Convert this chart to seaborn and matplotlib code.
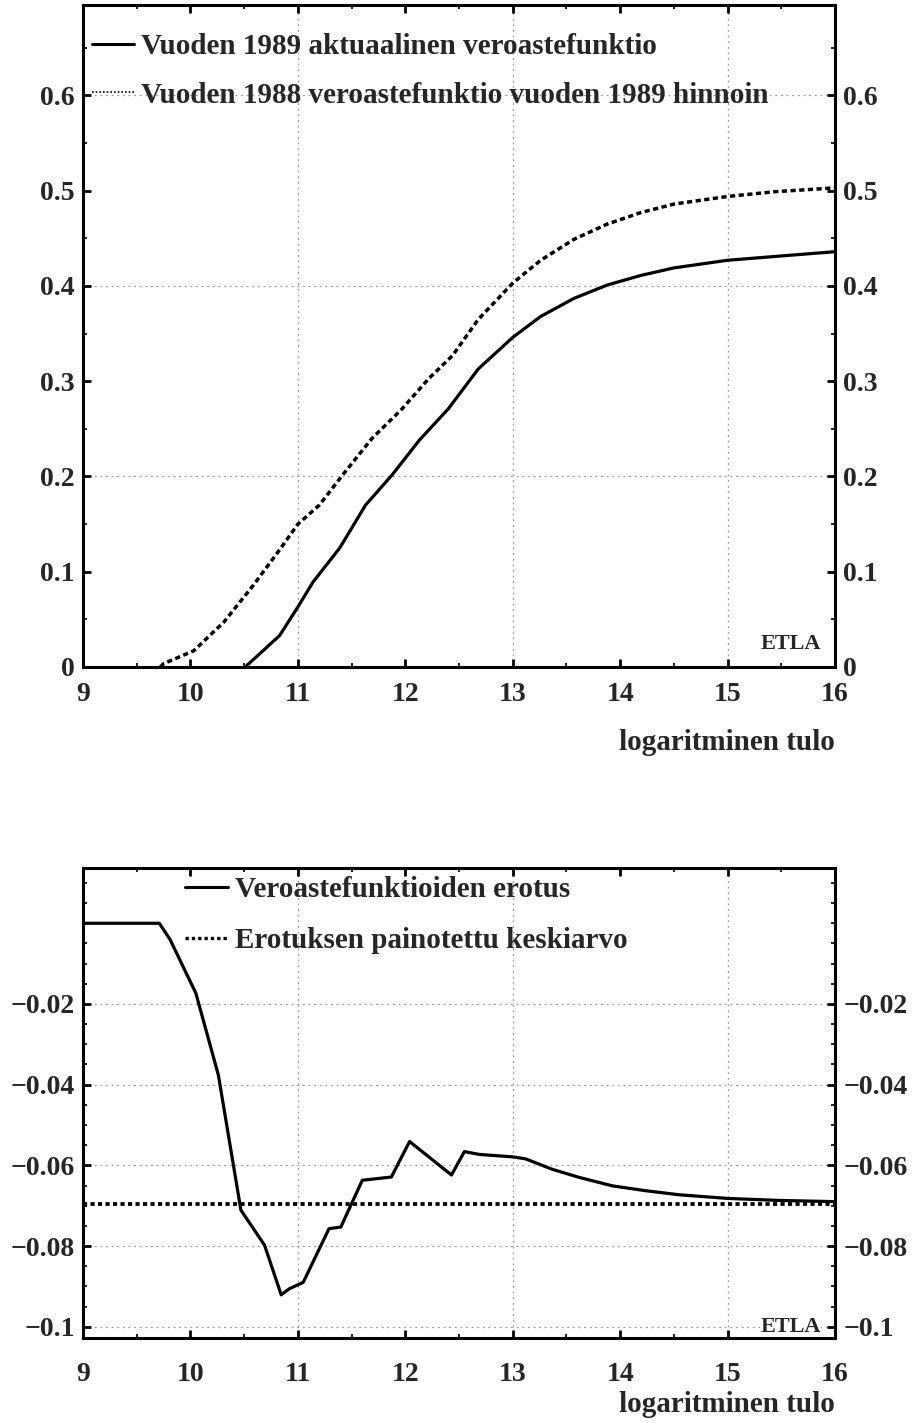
import numpy as np
import pandas as pd
import matplotlib
matplotlib.use("Agg")
import matplotlib.pyplot as plt
from matplotlib.lines import Line2D
from matplotlib.ticker import MultipleLocator, FixedLocator
import seaborn as sns

# ---------------- data ----------------
# Top panel: 1989 actual tax-rate function
x_1989 = [10.51, 10.83, 11.0, 11.14, 11.39, 11.63, 11.88, 12.13, 12.40, 12.68,
          13.0, 13.26, 13.57, 13.88, 14.19, 14.50, 15.0, 15.44, 16.0]
y_1989 = [0.0, 0.033, 0.063, 0.089, 0.125, 0.170, 0.202, 0.238, 0.271, 0.313,
          0.346, 0.368, 0.387, 0.401, 0.411, 0.419, 0.427, 0.431, 0.436]
# Top panel: 1988 function at 1989 prices
x_1988 = [9.72, 9.75, 10.03, 10.31, 10.58, 10.83, 11.0, 11.20, 11.42, 11.69, 11.97,
          12.22, 12.44, 12.68, 13.0, 13.26, 13.57, 13.88, 14.19, 14.50, 15.0, 15.44, 16.0]
y_1988 = [0.0, 0.0035, 0.017, 0.047, 0.085, 0.123, 0.150, 0.170, 0.202, 0.240, 0.271,
          0.303, 0.327, 0.365, 0.403, 0.427, 0.449, 0.465, 0.477, 0.486, 0.494, 0.499, 0.503]
# Bottom panel: difference of the functions
x_diff = [9.0, 9.71, 9.81, 10.05, 10.26, 10.47, 10.69, 10.845, 10.92, 11.05, 11.29, 11.40,
          11.60, 11.87, 12.04, 12.43, 12.55, 12.69, 13.0, 13.12, 13.37, 13.62, 13.93,
          14.24, 14.55, 15.0, 15.48, 16.0]
y_diff = [0.0, 0.0, -0.004, -0.0173, -0.0376, -0.0711, -0.0798, -0.0921, -0.0906, -0.0890,
          -0.0757, -0.0753, -0.0637, -0.0629, -0.0541, -0.0624, -0.0566, -0.0573, -0.0579,
          -0.0584, -0.0610, -0.0630, -0.0651, -0.0663, -0.0673, -0.0682, -0.0687, -0.0690]
weighted_mean = -0.0696

top_labels = ["Vuoden 1989 aktuaalinen veroastefunktio",
              "Vuoden 1988 veroastefunktio vuoden 1989 hinnoin"]
bottom_labels = ["Veroastefunktioiden erotus", "Erotuksen painotettu keskiarvo"]
x_ticks = [9, 10, 11, 12, 13, 14, 15, 16]
top_yticks = [0, 0.1, 0.2, 0.3, 0.4, 0.5, 0.6]
top_yticklabels = ["0", "0.1", "0.2", "0.3", "0.4", "0.5", "0.6"]
bot_yticks = [-0.1, -0.08, -0.06, -0.04, -0.02]
bot_yticklabels = ["\u22120.1", "\u22120.08", "\u22120.06", "\u22120.04", "\u22120.02"]
grid_x = [11, 13, 15]
top_grid_y = [0.2, 0.4, 0.6]
xlabel = "logaritminen tulo"
source = "ETLA"

df_top = pd.concat([
    pd.DataFrame({"x": x_1989, "y": y_1989, "s": top_labels[0]}),
    pd.DataFrame({"x": x_1988, "y": y_1988, "s": top_labels[1]}),
])
df_diff = pd.DataFrame({"x": x_diff, "y": y_diff})
df_mean = pd.DataFrame({"x": [9, 16], "y": [weighted_mean, weighted_mean]})

# ---------------- style ----------------
sns.set_style("white")
plt.rcParams["font.family"] = ["Liberation Serif", "DejaVu Serif"]
plt.rcParams["font.weight"] = "bold"
FS = 20      # tick labels
FL = 21      # legend and axis label

fig = plt.figure(figsize=(9.16, 14.23), dpi=100)
W, H = 916, 1423
def axpos(l, r, t, b):
    return [l / W, 1 - b / H, (r - l) / W, (b - t) / H]

ax1 = fig.add_axes(axpos(83, 835, 5, 667))
ax2 = fig.add_axes(axpos(83, 835, 868, 1338))

dash_style = (0, (1.5, 1.0))
dot_style = (0, (1.1, 0.9))
LW = 2.3

# top panel
sns.lineplot(data=df_top[df_top.s == top_labels[0]], x="x", y="y", ax=ax1,
             color="black", lw=LW, estimator=None, sort=False)
sns.lineplot(data=df_top[df_top.s == top_labels[1]], x="x", y="y", ax=ax1,
             color="black", lw=2.5, linestyle=dash_style, estimator=None, sort=False)

# bottom panel
sns.lineplot(data=df_diff, x="x", y="y", ax=ax2, color="black", lw=LW,
             estimator=None, sort=False)
sns.lineplot(data=df_mean, x="x", y="y", ax=ax2, color="black", lw=2.7,
             linestyle=dot_style, estimator=None, sort=False)

grid_kw = dict(color="#9a9a9a", lw=0.9, linestyle=(0, (1.5, 3)), zorder=0)
for g in grid_x:
    ax1.axvline(g, **grid_kw)
    ax2.axvline(g, **grid_kw)
for g in top_grid_y:
    ax1.axhline(g, **grid_kw)
for g in bot_yticks:
    ax2.axhline(g, **grid_kw)

for ax in (ax1, ax2):
    ax.set_xlim(9, 16)
    ax.set_xticks(x_ticks)
    ax.set_xticklabels([str(t) for t in x_ticks])
    ax.xaxis.set_minor_locator(MultipleLocator(0.5))
    ax.set_xlabel("")
    ax.set_ylabel("")
    for s in ax.spines.values():
        s.set_linewidth(2.2)
        s.set_color("black")
        s.set_visible(True)
        s.set_zorder(5)
    ax.tick_params(which="both", direction="in", top=True, right=True,
                   left=True, bottom=True, labelright=True, color="black")
    ax.tick_params(which="major", length=6, width=2.0, labelsize=FS)
    ax.tick_params(which="minor", length=3, width=1.2)
    ax.tick_params(axis="y", pad=6)

ax1.set_ylim(0, 0.695)
ax1.set_yticks(top_yticks)
ax1.set_yticklabels(top_yticklabels)
ax1.yaxis.set_minor_locator(MultipleLocator(0.05))
ax1.tick_params(axis="x", pad=11)

ax2.set_ylim(-0.1028, 0.0137)
ax2.set_yticks(bot_yticks)
ax2.set_yticklabels(bot_yticklabels)
ax2.yaxis.set_minor_locator(FixedLocator(np.arange(-0.1, 0.0126, 0.005)))
ax2.tick_params(axis="x", pad=17)

for ax in (ax1, ax2):
    for lab in ax.get_xticklabels() + ax.get_yticklabels():
        lab.set_fontweight("bold")
        lab.set_fontsize(FS)

# x labels (right aligned under axis)
fig.text(835 / W, 1 - 742 / H, xlabel, ha="right", va="center", fontsize=FL, fontweight="bold")
fig.text(835 / W, 1 - 1405 / H, xlabel, ha="right", va="center", fontsize=FL, fontweight="bold")

# source labels
ax1.text(0.981, 0.035, source, transform=ax1.transAxes, ha="right", va="center",
         fontsize=16, fontweight="bold")
ax2.text(0.981, -0.1, source, transform=ax2.get_yaxis_transform(), ha="right", va="center",
         fontsize=16, fontweight="bold", zorder=2,
         bbox=dict(facecolor="white", edgecolor="none", pad=0.5))

# legends
h_top = [Line2D([], [], color="black", lw=2.2),
         Line2D([], [], color="black", lw=1.2, linestyle=(0, (1, 1.2)))]
leg1 = ax1.legend(h_top, top_labels, loc="upper left", bbox_to_anchor=(0.012, 0.958),
                  frameon=False, fontsize=FL, handlelength=1.45, handletextpad=0.22,
                  labelspacing=0.75, borderaxespad=0, borderpad=0)
for t in leg1.get_texts():
    t.set_fontweight("bold")

h_bot = [Line2D([], [], color="black", lw=2.2),
         Line2D([], [], color="black", lw=2.4, linestyle=(0, (1, 0.9)))]
leg2 = ax2.legend(h_bot, bottom_labels, loc="upper left", bbox_to_anchor=(0.135, 0.982),
                  frameon=False, fontsize=FL, handlelength=1.5, handletextpad=0.22,
                  labelspacing=0.8, borderaxespad=0, borderpad=0)
for t in leg2.get_texts():
    t.set_fontweight("bold")

fig.savefig("out.png", dpi=100, facecolor="white")
